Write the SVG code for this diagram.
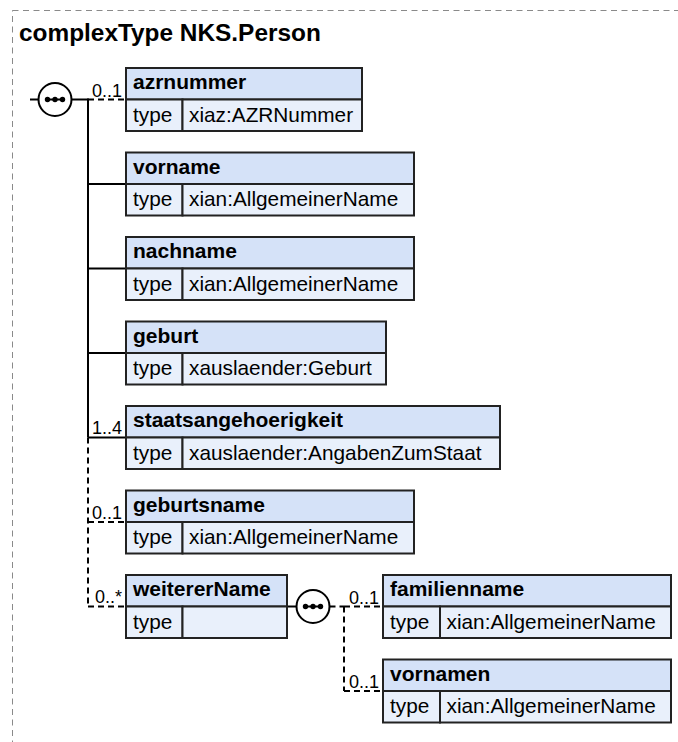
<svg xmlns="http://www.w3.org/2000/svg" width="678" height="742" viewBox="0 0 678 742">
<defs>
<style>
.frame{fill:none;stroke:#8a8a8a;stroke-width:1;stroke-dasharray:6,4.5}
.title{font-family:"Liberation Sans",Arial,sans-serif;font-weight:bold;font-size:24.4px;fill:#000}
.hdr{fill:#d5e2f8;stroke:#222;stroke-width:2}
.row{fill:#e9f0fb;stroke:#222;stroke-width:2}
.name{font-family:"Liberation Sans",Arial,sans-serif;font-weight:bold;font-size:21px;fill:#000}
.txt{font-family:"Liberation Sans",Arial,sans-serif;font-size:20.8px;fill:#000}
.occ{font-family:"Liberation Sans",Arial,sans-serif;font-size:18px;fill:#000;text-anchor:end}
.ln{fill:none;stroke:#000;stroke-width:2}
.dash{fill:none;stroke:#000;stroke-width:2;stroke-dasharray:6,4}
.circ{fill:#fff;stroke:#000;stroke-width:2}
</style>
<g id="seqicon">
<circle class="circ" cx="0" cy="0" r="16.5"/>
<line x1="-10" y1="0" x2="10" y2="0" stroke="#000" stroke-width="2"/>
<circle cx="-7.5" cy="0" r="2.7" fill="#000"/>
<circle cx="0" cy="0" r="2.7" fill="#000"/>
<circle cx="7.5" cy="0" r="2.7" fill="#000"/>
</g>
</defs>
<rect class="frame" x="12.5" y="10.5" width="700" height="760"/>
<text class="title" x="19" y="41">complexType NKS.Person</text>

<g id="connectors">
<line class="ln" x1="30" y1="99.5" x2="38.5" y2="99.5"/>
<line class="ln" x1="71.5" y1="99.5" x2="88" y2="99.5"/>
<line class="ln" x1="88" y1="98.5" x2="88" y2="437.5"/>
<line class="dash" x1="88" y1="437.5" x2="88" y2="606.5"/>
<line class="dash" x1="88" y1="99.5" x2="126" y2="99.5"/>
<line class="ln" x1="88" y1="184" x2="126" y2="184"/>
<line class="ln" x1="88" y1="268.5" x2="126" y2="268.5"/>
<line class="ln" x1="88" y1="353" x2="126" y2="353"/>
<line class="ln" x1="88" y1="437.5" x2="126" y2="437.5"/>
<line class="dash" x1="88" y1="522" x2="126" y2="522"/>
<line class="dash" x1="88" y1="606.5" x2="126" y2="606.5"/>
<line class="ln" x1="287" y1="606.5" x2="296.5" y2="606.5"/>
<line class="dash" x1="329.5" y1="606.5" x2="344" y2="606.5"/>
<line class="dash" x1="344" y1="606.5" x2="344" y2="691"/>
<line class="dash" x1="344" y1="606.5" x2="383" y2="606.5"/>
<line class="dash" x1="344" y1="691" x2="383" y2="691"/>
<text class="occ" x="122" y="97">0..1</text>
<text class="occ" x="122" y="434">1..4</text>
<text class="occ" x="122" y="519">0..1</text>
<text class="occ" x="122" y="603">0..*</text>
<text class="occ" x="379" y="603.5">0..1</text>
<text class="occ" x="379" y="688">0..1</text>
</g>

<g id="seq1"><use href="#seqicon" x="55" y="99.5"/></g>
<g id="seq2"><use href="#seqicon" x="313" y="606.5"/></g>

<g id="azrnummer">
<rect class="hdr" x="126" y="68" width="236" height="31.5"/>
<rect class="row" x="126" y="99.5" width="56.5" height="31.5"/>
<rect class="row" x="182.5" y="99.5" width="179.5" height="31.5"/>
<text class="name" x="133" y="89">azrnummer</text>
<text class="txt" x="133" y="121.5">type</text>
<text class="txt" x="189" y="121.5">xiaz:AZRNummer</text>
</g>

<g id="vorname">
<rect class="hdr" x="126" y="152.5" width="288" height="31.5"/>
<rect class="row" x="126" y="184" width="56.5" height="31.5"/>
<rect class="row" x="182.5" y="184" width="231.5" height="31.5"/>
<text class="name" x="133" y="173.5">vorname</text>
<text class="txt" x="133" y="206">type</text>
<text class="txt" x="189" y="206">xian:AllgemeinerName</text>
</g>

<g id="nachname">
<rect class="hdr" x="126" y="237" width="288" height="31.5"/>
<rect class="row" x="126" y="268.5" width="56.5" height="31.5"/>
<rect class="row" x="182.5" y="268.5" width="231.5" height="31.5"/>
<text class="name" x="133" y="258">nachname</text>
<text class="txt" x="133" y="290.5">type</text>
<text class="txt" x="189" y="290.5">xian:AllgemeinerName</text>
</g>

<g id="geburt">
<rect class="hdr" x="126" y="321.5" width="260" height="31.5"/>
<rect class="row" x="126" y="353" width="56.5" height="31.5"/>
<rect class="row" x="182.5" y="353" width="203.5" height="31.5"/>
<text class="name" x="133" y="342.5">geburt</text>
<text class="txt" x="133" y="375">type</text>
<text class="txt" x="189" y="375">xauslaender:Geburt</text>
</g>

<g id="staatsangehoerigkeit">
<rect class="hdr" x="126" y="406" width="374" height="31.5"/>
<rect class="row" x="126" y="437.5" width="56.5" height="31.5"/>
<rect class="row" x="182.5" y="437.5" width="317.5" height="31.5"/>
<text class="name" x="133" y="427">staatsangehoerigkeit</text>
<text class="txt" x="133" y="459.5">type</text>
<text class="txt" x="189" y="459.5">xauslaender:AngabenZumStaat</text>
</g>

<g id="geburtsname">
<rect class="hdr" x="126" y="490.5" width="288" height="31.5"/>
<rect class="row" x="126" y="522" width="56.5" height="31.5"/>
<rect class="row" x="182.5" y="522" width="231.5" height="31.5"/>
<text class="name" x="133" y="511.5">geburtsname</text>
<text class="txt" x="133" y="544">type</text>
<text class="txt" x="189" y="544">xian:AllgemeinerName</text>
</g>

<g id="weitererName">
<rect class="hdr" x="126" y="575" width="161" height="31.5"/>
<rect class="row" x="126" y="606.5" width="56.5" height="31.5"/>
<rect class="row" x="182.5" y="606.5" width="104.5" height="31.5"/>
<text class="name" x="133" y="596">weitererName</text>
<text class="txt" x="133" y="628.5">type</text>
</g>

<g id="familienname">
<rect class="hdr" x="383" y="575" width="288" height="31.5"/>
<rect class="row" x="383" y="606.5" width="57" height="31.5"/>
<rect class="row" x="440" y="606.5" width="231" height="31.5"/>
<text class="name" x="390" y="596">familienname</text>
<text class="txt" x="390" y="628.5">type</text>
<text class="txt" x="446.5" y="628.5">xian:AllgemeinerName</text>
</g>

<g id="vornamen">
<rect class="hdr" x="383" y="659.5" width="288" height="31.5"/>
<rect class="row" x="383" y="691" width="57" height="31.5"/>
<rect class="row" x="440" y="691" width="231" height="31.5"/>
<text class="name" x="390" y="680.5">vornamen</text>
<text class="txt" x="390" y="713">type</text>
<text class="txt" x="446.5" y="713">xian:AllgemeinerName</text>
</g>
</svg>
